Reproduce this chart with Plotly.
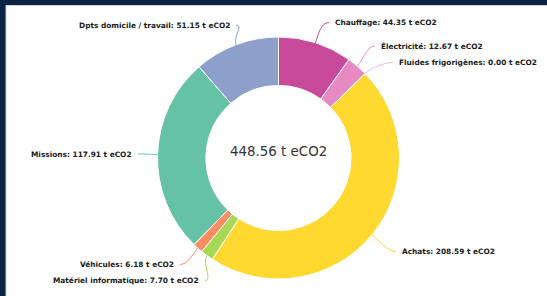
import math
import plotly.graph_objects as go

# ---- data ----
categories = ["Chauffage", "Électricité", "Fluides frigorigènes", "Achats",
              "Matériel informatique", "Véhicules", "Missions",
              "Dpts domicile / travail"]
emissions = [44.35, 12.67, 0.00, 208.59, 7.70, 6.18, 117.91, 51.15]
unit = "t eCO2"
total_text = "448.56 t eCO2"

# ---- styles ----
colors = ["#c8489a", "#e78ac3", "#f1b6da", "#ffd92f", "#a6d854",
          "#fc8d62", "#66c2a5", "#8da0cb"]
W, H = 547, 296
CX, CY, R = 278.5, 158.0, 121.0
HOLE = 0.6
NAVY = "#0b2444"

# label text placement (side, x edge, y centre) in pixels
label_pos = {
    "Chauffage": ("right", 333, 22.5),
    "Électricité": ("right", 379, 46),
    "Fluides frigorigènes": ("right", 397, 62.5),
    "Achats": ("right", 400, 251.5),
    "Matériel informatique": ("left", 201, 280.5),
    "Véhicules": ("left", 176, 264.5),
    "Missions": ("left", 134, 154),
    "Dpts domicile / travail": ("left", 232, 25),
}

fig = go.Figure()
fig.add_trace(go.Pie(
    labels=categories, values=emissions, hole=HOLE, sort=False,
    direction="clockwise", rotation=0, textinfo="none",
    marker=dict(colors=colors, line=dict(color="white", width=1)),
    hoverinfo="label+value", showlegend=False,
    domain=dict(x=[(CX - R) / W, (CX + R) / W],
                y=[(H - CY - R) / H, (H - CY + R) / H]),
))

shapes = [
    dict(type="rect", xref="x", yref="y", x0=6, y0=5.5, x1=W + 2, y1=H + 2,
         fillcolor="white", line=dict(color="#c9d3e0", width=1), layer="below"),
]
annotations = []
total = sum(emissions)
cum = 0.0
for name, val, col in zip(categories, emissions, colors):
    mid = (cum + val / 2) / total * 2 * math.pi
    cum += val
    sx, sy = math.sin(mid), -math.cos(mid)
    p0 = (CX + R * sx, CY + R * sy)
    side, lx, ly = label_pos[name]
    if side == "right":
        p3 = (lx - 4, ly)
        p2 = (p3[0] - 8, ly)
    else:
        p3 = (lx + 4, ly)
        p2 = (p3[0] + 8, ly)
    p1 = (p0[0] + 9 * sx, p0[1] + 9 * sy)
    path = "M {:.2f} {:.2f} C {:.2f} {:.2f} {:.2f} {:.2f} {:.2f} {:.2f}".format(
        *p0, *p1, *p2, *p3)
    shapes.append(dict(type="path", xref="x", yref="y", path=path,
                       line=dict(color=col, width=1), layer="above"))
    annotations.append(dict(
        xref="x", yref="y", x=lx, y=ly, showarrow=False,
        xanchor="left" if side == "right" else "right", yanchor="middle",
        text="<b>{}: {:.2f} {}</b>".format(name, val, unit),
        font=dict(family="DejaVu Sans", size=7.4, color="#1a1a1a"),
    ))

annotations.append(dict(
    xref="x", yref="y", x=CX, y=151.7, showarrow=False,
    xanchor="center", yanchor="middle", text=total_text,
    font=dict(family="DejaVu Sans", size=13.4, color="#333333"),
))

fig.update_layout(
    width=W, height=H, margin=dict(l=0, r=0, t=0, b=0),
    paper_bgcolor=NAVY, plot_bgcolor=NAVY,
    xaxis=dict(range=[0, W], visible=False, fixedrange=True),
    yaxis=dict(range=[H, 0], visible=False, fixedrange=True),
    shapes=shapes, annotations=annotations, showlegend=False,
)
fig.write_html(
    "out.html",
    config=dict(displayModeBar=False),
    post_script="document.body.style.margin='0';"
                "document.body.style.overflow='hidden';"
                "document.body.style.background='" + NAVY + "';",
)
